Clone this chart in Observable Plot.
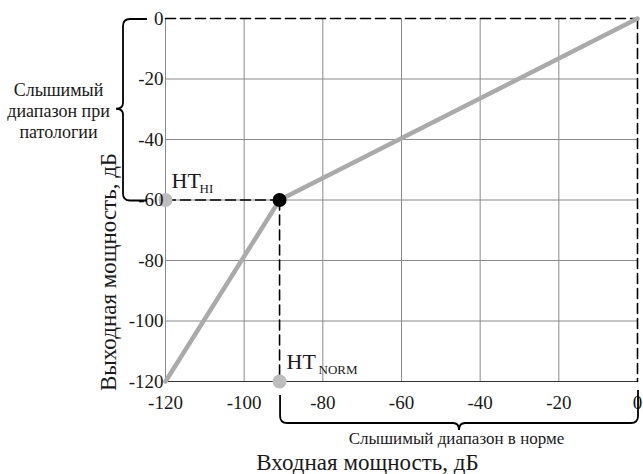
<!DOCTYPE html>
<html>
<head>
<meta charset="utf-8">
<script src="https://cdn.jsdelivr.net/npm/d3@7"></script>
<script src="https://cdn.jsdelivr.net/npm/@observablehq/plot@0.6"></script>
<style>
  html, body { margin: 0; padding: 0; background: #fff; }
  svg { display: block; }
</style>
</head>
<body>
<div id="chart"></div>
<script>
// ---- data ----
const xTicks = [-120, -100, -80, -60, -40, -20, 0];
const yTicks = [0, -20, -40, -60, -80, -100, -120];
const inputLevels = [-120, -91, 0];      // input power, dB
const outputLevels = [-120, -60, 0];     // output power, dB
const kneeIn = -91;                      // HT_NORM (input)
const kneeOut = -60;                     // HT_HI (output)
const xLabel = "Входная мощность, дБ";
const yLabel = "Выходная мощность, дБ";
const leftNote = "Слышимый\nдиапазон при\nпатологии";
const bottomNote = "Слышимый диапазон в норме";

const curve = inputLevels.map((x, i) => ({x, y: outputLevels[i]}));
const font = "'Liberation Serif', 'Times New Roman', serif";
const ink = "#1a1a1a";
const dash = "10,5";

const plot = Plot.plot({
  width: 643,
  height: 474,
  marginLeft: 165,
  marginRight: 6,
  marginTop: 18,
  marginBottom: 93,
  x: {domain: [-120, 0], axis: null},
  y: {domain: [-120, 0], axis: null},
  style: {fontFamily: font, background: "#fff", color: ink},
  marks: [
    Plot.ruleX(xTicks.slice(0, -1), {stroke: "#8a8a8a", strokeWidth: 1}),
    Plot.ruleY(yTicks.slice(1, -1), {stroke: "#8a8a8a", strokeWidth: 1}),
    Plot.ruleY([-120], {stroke: "#333", strokeWidth: 1.2}),
    // dashed frame top & right
    Plot.line([{x: -120, y: 0}, {x: 0, y: 0}], {x: "x", y: "y", stroke: "#000", strokeWidth: 1.6, strokeDasharray: dash}),
    Plot.line([{x: 0, y: 0}, {x: 0, y: -120}], {x: "x", y: "y", stroke: "#000", strokeWidth: 1.6, strokeDasharray: dash}),
    // threshold dashed lines
    Plot.line([{x: -120, y: kneeOut}, {x: kneeIn, y: kneeOut}], {x: "x", y: "y", stroke: "#000", strokeWidth: 1.6, strokeDasharray: dash}),
    Plot.line([{x: kneeIn, y: kneeOut}, {x: kneeIn, y: -120}], {x: "x", y: "y", stroke: "#000", strokeWidth: 1.6, strokeDasharray: dash}),
    // curve
    Plot.line(curve, {x: "x", y: "y", stroke: "#aaaaaa", strokeWidth: 4.5}),
    // points
    Plot.dot([{x: -120, y: kneeOut}, {x: kneeIn, y: -120}], {x: "x", y: "y", r: 7, fill: "#bdbdbd", stroke: "none"}),
    Plot.dot([{x: kneeIn, y: kneeOut}], {x: "x", y: "y", r: 7, fill: "#000", stroke: "none"}),
    // tick labels
    Plot.text(xTicks, {x: d => d, y: -120, text: d => String(d), dy: 21, fontSize: 19, fill: ink, lineAnchor: "middle"}),
    Plot.text(yTicks, {x: -120, y: d => d, text: d => String(d), dx: -2, textAnchor: "end", fontSize: 19, fill: ink, lineAnchor: "middle"}),
    // HT labels
    Plot.text([{x: -120, y: kneeOut}], {x: "x", y: "y", text: () => "HT", dx: 6, dy: -12, textAnchor: "start", lineAnchor: "bottom", fontSize: 22, fill: ink}),
    Plot.text([{x: -120, y: kneeOut}], {x: "x", y: "y", text: () => "HI", dx: 34, dy: -7, textAnchor: "start", lineAnchor: "bottom", fontSize: 13, fill: ink}),
    Plot.text([{x: kneeIn, y: -120}], {x: "x", y: "y", text: () => "HT", dx: 7, dy: -13, textAnchor: "start", lineAnchor: "bottom", fontSize: 22, fill: ink}),
    Plot.text([{x: kneeIn, y: -120}], {x: "x", y: "y", text: () => "NORM", dx: 39, dy: -8, textAnchor: "start", lineAnchor: "bottom", fontSize: 13, fill: ink}),
    // axis titles
    Plot.text([xLabel], {frameAnchor: "bottom", text: d => d, textAnchor: "middle", dx: -34, dy: 81, fontSize: 23, fill: ink, lineAnchor: "middle"}),
    Plot.text([yLabel], {frameAnchor: "left", text: d => d, textAnchor: "middle", rotate: -90, dx: -57, dy: 72, fontSize: 23, fill: ink, lineAnchor: "middle"}),
    // notes
    Plot.text([leftNote], {frameAnchor: "left", text: d => d, textAnchor: "middle", dx: -107, dy: -90, fontSize: 18, lineHeight: 1.18, fill: ink, lineAnchor: "middle"}),
    Plot.text([bottomNote], {frameAnchor: "bottom", text: d => d, textAnchor: "middle", dx: 55, dy: 57, fontSize: 17, fill: ink, lineAnchor: "middle"})
  ]
});

document.getElementById("chart").appendChild(plot);

// braces, positioned with the plot's scales
const sx = plot.scale("x").apply, sy = plot.scale("y").apply;
const svg = d3.select(plot);
const g = svg.append("g").attr("fill", "none").attr("stroke", "#000").attr("stroke-width", 1.8);
// left brace: output range kneeOut..0
{
  const x0 = sx(-120) - 42, ya = sy(0) + 1, yb = sy(kneeOut) + 1, ym = (ya + yb) / 2 - 1, r = 7, end = sx(-120) - 18;
  g.append("path").attr("d",
    `M${end},${ya} H${x0 + r} Q${x0},${ya} ${x0},${ya + r} V${ym - 6} Q${x0},${ym} ${x0 - 7},${ym} Q${x0},${ym} ${x0},${ym + 6} V${yb - r} Q${x0},${yb} ${x0 + r},${yb} H${end}`);
}
// bottom brace: input range kneeIn..0
{
  const xa = sx(kneeIn) + 1, xb = sx(0) + 1, y0 = sy(-120) + 42, xm = xa + (xb - xa) * 0.5, r = 7, top = sy(-120) + 14;
  g.append("path").attr("d",
    `M${xa},${top} V${y0 - r} Q${xa},${y0} ${xa + r},${y0} H${xm - 6} Q${xm},${y0} ${xm},${y0 + 7} Q${xm},${y0} ${xm + 6},${y0} H${xb - r} Q${xb},${y0} ${xb},${y0 - r} V${top - 5}`);
}
</script>
</body>
</html>
